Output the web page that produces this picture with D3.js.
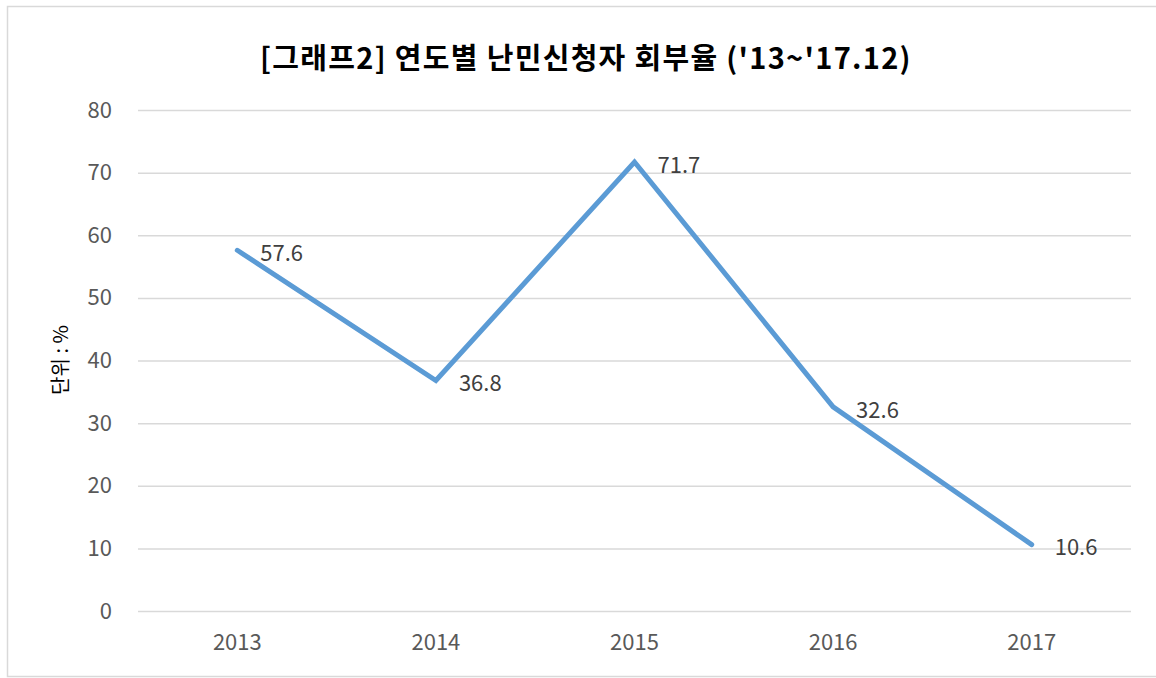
<!DOCTYPE html>
<html>
<head>
<meta charset="utf-8">
<script src="https://cdn.jsdelivr.net/npm/d3@7"></script>
<style>
  body { margin: 0; background: #fff; }
  svg { display: block; }
</style>
</head>
<body>
<svg width="1156" height="678"></svg>
<script>
var years = ["2013", "2014", "2015", "2016", "2017"];
var rates = [57.6, 36.8, 71.7, 32.6, 10.6];
var yTicks = [0, 10, 20, 30, 40, 50, 60, 70, 80];
var titleText = "[그래프2] 연도별 난민신청자 회부율 ('13~'17.12)";
var unitText = "단위 : %";

var svg = d3.select("svg");
var font = "'Noto Sans CJK KR', 'Noto Sans', sans-serif";

var plot = { l: 138, r: 1131, t: 110, b: 611 };

// outer frame
svg.append("rect")
    .attr("x", 7.5).attr("y", 6.5)
    .attr("width", 1160).attr("height", 670)
    .attr("fill", "#fff")
    .attr("stroke", "#d9d9d9")
    .attr("stroke-width", 1.5);

var x = d3.scaleBand().domain(years).range([plot.l, plot.r]);
var y = d3.scaleLinear().domain([0, 80]).range([plot.b, plot.t]);

// gridlines + y labels
var yAxis = d3.axisLeft(y).tickValues(yTicks).tickSize(-(plot.r - plot.l)).tickPadding(26);
var gy = svg.append("g").attr("transform", "translate(" + plot.l + ",0)").call(yAxis);
gy.select(".domain").remove();
gy.selectAll("line").attr("stroke", "#d9d9d9").attr("stroke-width", 1.5);
gy.selectAll("text")
    .attr("fill", "#595959")
    .style("font-family", font)
    .style("font-size", "22px");

// x labels
var xAxis = d3.axisBottom(x).tickSize(0).tickPadding(23);
var gx = svg.append("g").attr("transform", "translate(0," + plot.b + ")").call(xAxis);
gx.select(".domain").remove();
gx.selectAll("text")
    .attr("fill", "#595959")
    .style("font-family", font)
    .style("font-size", "22px");

// line
var pts = years.map(function (d, i) { return { year: d, v: rates[i] }; });
var line = d3.line()
    .x(function (d) { return x(d.year) + x.bandwidth() / 2; })
    .y(function (d) { return y(d.v); });

svg.append("path")
    .datum(pts)
    .attr("d", line)
    .attr("fill", "none")
    .attr("stroke", "#5b9bd5")
    .attr("stroke-width", 5)
    .attr("stroke-linejoin", "miter")
    .attr("stroke-linecap", "round");

// data labels
svg.selectAll(".lbl")
    .data(pts)
    .enter()
    .append("text")
    .attr("class", "lbl")
    .attr("x", function (d) { return x(d.year) + x.bandwidth() / 2 + 23; })
    .attr("y", function (d) { return y(d.v) + 3; })
    .attr("dy", "0.35em")
    .attr("fill", "#404040")
    .style("font-family", font)
    .style("font-size", "22px")
    .text(function (d) { return d.v.toFixed(1); });

// title
svg.append("text")
    .attr("x", 586).attr("y", 69)
    .attr("text-anchor", "middle")
    .attr("fill", "#000")
    .style("font-family", font)
    .style("font-weight", "bold")
    .style("font-size", "29px")
    .style("letter-spacing", "1.3px")
    .text(titleText);

// unit label
svg.append("text")
    .attr("transform", "translate(68,360) rotate(-90)")
    .attr("text-anchor", "middle")
    .attr("fill", "#000")
    .style("font-family", font)
    .style("font-size", "20px")
    .text(unitText);
</script>
</body>
</html>
